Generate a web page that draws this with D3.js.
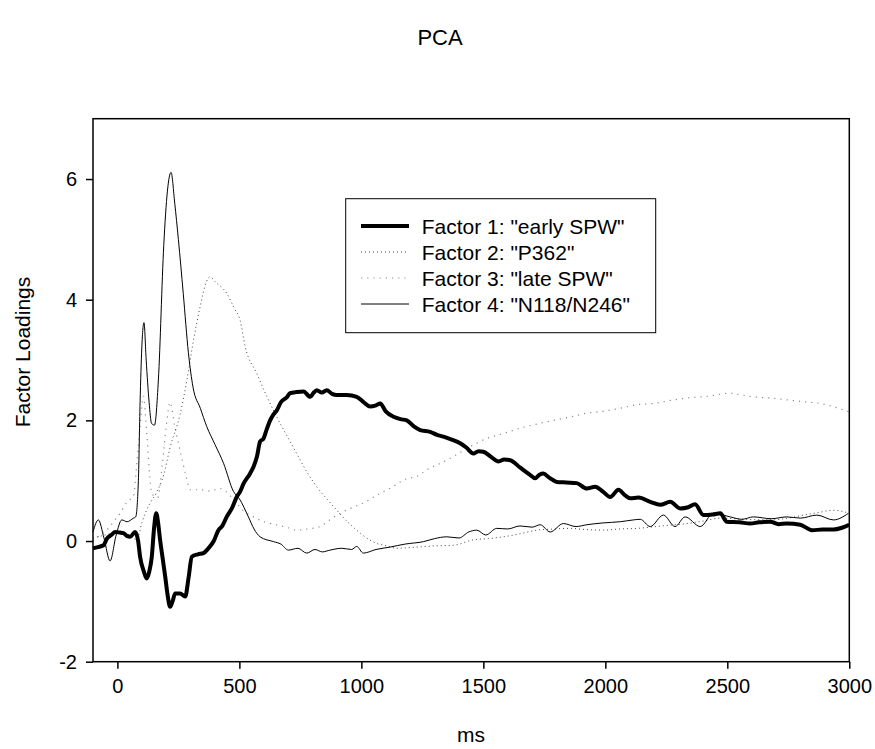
<!DOCTYPE html>
<html>
<head>
<meta charset="utf-8">
<script src="https://cdn.jsdelivr.net/npm/d3@7"></script>
<style>
  body { margin: 0; background: #fff; }
  text { font-family: Arial, "Liberation Sans", sans-serif; }
</style>
</head>
<body>
<div id="chart"></div>
<script>
// data: [ms, loading]
var factor1 = [[-100,-0.12],[-80,-0.1],[-57,-0.07],[-43,0.04],[-25,0.1],[-9,0.15],[10,0.14],[25,0.13],[40,0.08],[52,0.07],[73,0.15],[85,0.0],[93,-0.26],[108,-0.5],[120,-0.62],[131,-0.5],[141,-0.26],[150,0.2],[159,0.46],[167,0.3],[175,0.02],[186,-0.3],[196,-0.59],[206,-0.9],[216,-1.09],[226,-1.0],[237,-0.87],[257,-0.87],[278,-0.92],[292,-0.6],[305,-0.26],[330,-0.22],[353,-0.2],[373,-0.12],[395,0.0],[414,0.18],[430,0.25],[448,0.4],[470,0.55],[489,0.73],[503,0.82],[517,0.95],[544,1.12],[558,1.23],[572,1.4],[585,1.65],[599,1.7],[612,1.85],[626,2.0],[640,2.1],[654,2.17],[670,2.3],[694,2.38],[708,2.45],[735,2.47],[763,2.48],[790,2.39],[803,2.45],[817,2.5],[838,2.46],[858,2.5],[880,2.44],[899,2.42],[940,2.42],[981,2.39],[1010,2.3],[1036,2.23],[1060,2.25],[1077,2.28],[1100,2.15],[1132,2.06],[1160,2.02],[1186,2.0],[1215,1.9],[1241,1.84],[1282,1.81],[1310,1.76],[1336,1.73],[1370,1.68],[1405,1.62],[1430,1.55],[1459,1.45],[1480,1.49],[1500,1.48],[1530,1.4],[1562,1.32],[1585,1.35],[1610,1.34],[1650,1.22],[1690,1.1],[1712,1.04],[1730,1.1],[1746,1.12],[1770,1.05],[1801,0.98],[1840,0.97],[1883,0.96],[1924,0.87],[1958,0.9],[1990,0.82],[2020,0.73],[2054,0.85],[2080,0.76],[2102,0.71],[2136,0.72],[2184,0.65],[2225,0.6],[2266,0.65],[2307,0.54],[2340,0.56],[2368,0.61],[2402,0.43],[2440,0.44],[2471,0.46],[2498,0.32],[2550,0.31],[2594,0.29],[2630,0.31],[2676,0.32],[2710,0.28],[2744,0.29],[2799,0.27],[2847,0.18],[2890,0.19],[2935,0.19],[2970,0.22],[3000,0.27]];

var factor2 = [[-100,0.05],[-50,0.1],[0,0.15],[50,0.1],[80,0.02],[100,0.3],[130,0.6],[160,0.8],[190,1.1],[216,1.55],[257,2.1],[285,2.67],[312,3.33],[340,3.9],[365,4.3],[380,4.38],[400,4.3],[449,4.1],[480,3.85],[503,3.66],[524,3.22],[571,2.78],[612,2.4],[653,2.06],[694,1.75],[735,1.45],[776,1.15],[817,0.9],[858,0.7],[899,0.51],[940,0.33],[981,0.18],[1022,0.05],[1063,-0.04],[1104,-0.08],[1145,-0.12],[1227,-0.1],[1300,-0.08],[1377,-0.07],[1459,0.02],[1520,0.04],[1582,0.07],[1650,0.12],[1719,0.18],[1790,0.2],[1856,0.21],[1920,0.19],[1992,0.18],[2060,0.2],[2129,0.21],[2230,0.25],[2334,0.29],[2400,0.33],[2471,0.38],[2570,0.36],[2676,0.35],[2750,0.38],[2812,0.43],[2870,0.47],[2935,0.51],[3000,0.46]];

var factor3 = [[-100,0.0],[-70,0.1],[-40,0.2],[-10,0.35],[11,0.46],[40,0.65],[66,0.75],[80,1.3],[95,2.0],[107,2.4],[120,1.8],[141,0.79],[165,0.72],[185,1.3],[200,1.9],[216,2.3],[235,1.9],[257,1.5],[280,1.1],[298,0.85],[340,0.85],[380,0.83],[421,0.87],[470,0.72],[517,0.5],[558,0.4],[600,0.32],[650,0.27],[700,0.22],[735,0.18],[780,0.2],[831,0.24],[870,0.35],[913,0.46],[960,0.55],[1008,0.63],[1077,0.79],[1120,0.88],[1173,1.01],[1241,1.1],[1268,1.18],[1320,1.28],[1377,1.4],[1440,1.55],[1514,1.7],[1580,1.78],[1651,1.87],[1720,1.94],[1788,2.0],[1860,2.06],[1924,2.12],[1990,2.15],[2061,2.2],[2129,2.26],[2198,2.28],[2266,2.33],[2334,2.37],[2420,2.4],[2512,2.45],[2560,2.42],[2607,2.39],[2680,2.37],[2744,2.34],[2810,2.31],[2881,2.28],[2940,2.22],[3000,2.14]];

var factor4 = [[-100,0.15],[-78,0.35],[-55,0.05],[-30,-0.33],[-5,0.1],[18,0.35],[40,0.32],[66,0.38],[75,0.4],[86,1.0],[93,2.3],[100,3.2],[109,3.62],[118,3.0],[130,2.3],[140,1.95],[152,1.92],[168,2.67],[190,4.9],[205,5.8],[220,6.11],[235,5.6],[250,5.0],[270,4.1],[291,3.12],[310,2.55],[340,2.2],[366,1.9],[400,1.6],[435,1.29],[476,0.82],[500,0.7],[537,0.4],[560,0.2],[585,0.07],[640,-0.01],[670,-0.05],[701,-0.15],[740,-0.12],[776,-0.2],[810,-0.14],[840,-0.18],[872,-0.15],[920,-0.12],[960,-0.14],[981,-0.09],[1008,-0.2],[1060,-0.14],[1118,-0.1],[1180,-0.05],[1255,-0.01],[1300,0.04],[1350,0.07],[1400,0.05],[1440,0.15],[1473,0.18],[1510,0.1],[1555,0.21],[1600,0.2],[1650,0.25],[1700,0.23],[1733,0.27],[1774,0.15],[1828,0.29],[1880,0.24],[1924,0.27],[1990,0.3],[2061,0.32],[2115,0.35],[2143,0.36],[2184,0.24],[2238,0.43],[2286,0.24],[2327,0.4],[2389,0.24],[2443,0.46],[2512,0.4],[2560,0.36],[2607,0.4],[2680,0.37],[2744,0.4],[2800,0.38],[2867,0.43],[2935,0.35],[2997,0.46]];

var seriesNames = ['Factor 1: "early SPW"', 'Factor 2: "P362"', 'Factor 3: "late SPW"', 'Factor 4: "N118/N246"'];
var xTicks = [0, 500, 1000, 1500, 2000, 2500, 3000];
var yTicks = [-2, 0, 2, 4, 6];

(function drawChart() {
    var width = 875, height = 749;
    var plotLeft = 93, plotRight = 849.3, plotTop = 118.7, plotBottom = 661.7;

    var svg = d3.select("#chart").append("svg")
        .attr("width", width)
        .attr("height", height);

    var x = d3.scaleLinear().domain([-100, 3000]).range([plotLeft, plotRight]);
    var y = d3.scaleLinear().domain([-2, 7]).range([plotBottom, plotTop]);

    // styles for each series
    var styles = [
        { color: "#000", width: 4, dash: null },
        { color: "#444", width: 1, dash: "1,3" },
        { color: "#8c8c8c", width: 1.2, dash: "1.2,5" },
        { color: "#000", width: 1, dash: null }
    ];
    var allSeries = [factor1, factor2, factor3, factor4];

    var line = d3.line()
        .x(d => x(d[0]))
        .y(d => y(d[1]))
        .curve(d3.curveMonotoneX);

    // dotted ones first, thick last
    [2, 1, 3, 0].forEach(i => {
        svg.append("path")
            .datum(allSeries[i])
            .attr("fill", "none")
            .attr("stroke", styles[i].color)
            .attr("stroke-width", styles[i].width)
            .attr("stroke-dasharray", styles[i].dash)
            .attr("stroke-linejoin", "round")
            .attr("d", line);
    });

    // frame
    svg.append("rect")
        .attr("x", plotLeft).attr("y", plotTop)
        .attr("width", plotRight - plotLeft).attr("height", plotBottom - plotTop)
        .attr("fill", "none")
        .attr("stroke", "#000")
        .attr("stroke-width", 1.5);

    // axes (plain hyphen for negatives, like the original)
    var plainFormat = d => String(d);
    var xAxis = svg.append("g")
        .attr("transform", `translate(0,${plotBottom})`)
        .call(d3.axisBottom(x).tickValues(xTicks).tickFormat(plainFormat)
            .tickSize(7).tickSizeOuter(0).tickPadding(10));
    var yAxis = svg.append("g")
        .attr("transform", `translate(${plotLeft},0)`)
        .call(d3.axisLeft(y).tickValues(yTicks).tickFormat(plainFormat)
            .tickSize(7).tickSizeOuter(0).tickPadding(9));

    [xAxis, yAxis].forEach(a => {
        a.select(".domain").remove();
        a.selectAll("line").attr("stroke", "#000").attr("stroke-width", 1.5);
        a.selectAll("text")
            .attr("fill", "#000")
            .style("font-size", "20px")
            .style("font-family", "Arial, 'Liberation Sans', sans-serif");
    });

    // titles
    svg.append("text")
        .attr("x", 440).attr("y", 45)
        .attr("text-anchor", "middle")
        .style("font-size", "22px")
        .text("PCA");

    svg.append("text")
        .attr("x", 471).attr("y", 742)
        .attr("text-anchor", "middle")
        .style("font-size", "21px")
        .text("ms");

    svg.append("text")
        .attr("transform", "translate(30,352) rotate(-90)")
        .attr("text-anchor", "middle")
        .style("font-size", "21px")
        .text("Factor Loadings");

    // legend
    var legend = svg.append("g");
    legend.append("rect")
        .attr("x", 345.7).attr("y", 198.7)
        .attr("width", 310).attr("height", 134)
        .attr("fill", "#fff")
        .attr("stroke", "#000")
        .attr("stroke-width", 1);

    seriesNames.forEach((name, i) => {
        var cy = 226 + i * 26;
        legend.append("line")
            .attr("x1", 361).attr("x2", 409)
            .attr("y1", cy).attr("y2", cy)
            .attr("stroke", styles[i].color)
            .attr("stroke-width", styles[i].width)
            .attr("stroke-dasharray", styles[i].dash);
        legend.append("text")
            .attr("x", 421.7).attr("y", cy + 7.5)
            .style("font-size", "21px")
            .text(name);
    });
})();
</script>
</body>
</html>
